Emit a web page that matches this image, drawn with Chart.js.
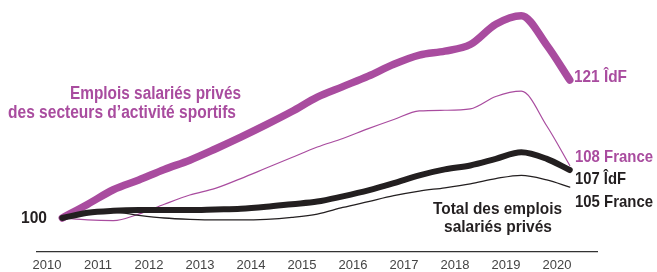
<!DOCTYPE html>
<html>
<head>
<meta charset="utf-8">
<script src="https://cdn.jsdelivr.net/npm/chart.js@4/dist/chart.umd.min.js"></script>
<style>
  html, body { margin: 0; padding: 0; background: #fff; }
  #wrap { width: 657px; height: 272px; }
</style>
</head>
<body>
<div id="wrap"><canvas id="c" width="657" height="272"></canvas></div>
<script>
// Year tick labels
const years = [2010, 2011, 2012, 2013, 2014, 2015, 2016, 2017, 2018, 2019, 2020];
// Observation times (fractional years)
const times = [2010.3, 2010.8, 2011.3, 2011.8, 2012.3, 2012.8, 2013.3, 2013.8, 2014.3, 2014.8,
               2015.3, 2015.8, 2016.3, 2016.8, 2017.3, 2017.8, 2018.3, 2018.8, 2019.3, 2019.8, 2020.25];
// Index base 100
const idfSport    = [100, 102.1, 104.3, 105.8, 107.4, 108.8, 110.5, 112.3, 114.2, 116.2,
                     118.4, 120.0, 121.6, 123.4, 124.8, 125.4, 126.4, 129.5, 130.8, 126.3, 121.0];
const franceSport = [100, 99.7, 99.6, 100.6, 102.1, 103.5, 104.5, 106.0, 107.6, 109.2,
                     110.8, 112.1, 113.6, 115.0, 116.3, 116.4, 116.6, 118.5, 119.3, 114.0, 108.0];
const idfTotal    = [100, 100.8, 101.1, 101.2, 101.2, 101.2, 101.3, 101.4, 101.7, 102.1,
                     102.5, 103.3, 104.2, 105.3, 106.5, 107.4, 108.0, 109.0, 110.0, 109.0, 107.3];
const franceTotal = [100, 100.7, 100.9, 100.4, 100.0, 99.8, 99.7, 99.7, 99.8, 100.1,
                     100.6, 101.6, 102.5, 103.4, 104.1, 104.6, 105.2, 106.0, 106.5, 105.8, 104.7];

const PURPLE = '#a94c9f';
const BLACK = '#231f20';

const pts = arr => times.map((t, i) => ({ x: t, y: arr[i] }));

const FONT = '"Liberation Sans Narrow", "Liberation Sans", Arial, sans-serif';

function fitText(ctx, text, x0, x1, baseline, size, color, bold) {
  ctx.save();
  ctx.font = (bold ? 'bold ' : '') + size + 'px ' + FONT;
  const w = ctx.measureText(text).width;
  const sx = (x1 - x0) / w;
  ctx.translate(x0, baseline);
  ctx.scale(sx, 1);
  ctx.fillStyle = color;
  ctx.textBaseline = 'alphabetic';
  ctx.textAlign = 'left';
  ctx.fillText(text, 0, 0);
  ctx.restore();
}

const labelsPlugin = {
  id: 'labelsPlugin',
  afterDraw(chart) {
    const ctx = chart.ctx;
    fitText(ctx, 'Emplois salariés privés', 70, 241, 99, 18, PURPLE, true);
    fitText(ctx, 'des secteurs d’activité sportifs', 8, 236, 118, 18, PURPLE, true);
    fitText(ctx, '121 ÎdF', 574, 627, 82, 17, PURPLE, true);
    fitText(ctx, '108 France', 575, 653, 162, 17, PURPLE, true);
    fitText(ctx, '107 ÎdF', 575, 626, 184, 17, BLACK, true);
    fitText(ctx, '105 France', 575, 653, 207, 17, BLACK, true);
    fitText(ctx, 'Total des emplois', 433, 562, 214, 17, BLACK, true);
    fitText(ctx, 'salariés privés', 444, 552, 232, 17, BLACK, true);
    fitText(ctx, '100', 21, 47, 223, 17, BLACK, true);
  }
};

const common = { pointRadius: 0, pointHoverRadius: 0, cubicInterpolationMode: 'monotone',
                 borderCapStyle: 'round', borderJoinStyle: 'round', fill: false, clip: false };

new Chart(document.getElementById('c'), {
  type: 'line',
  data: {
    datasets: [
      Object.assign({ label: 'Total ÎdF', data: pts(idfTotal), borderColor: BLACK, borderWidth: 6 }, common),
      Object.assign({ label: 'Sport ÎdF', data: pts(idfSport), borderColor: PURPLE, borderWidth: 7.5 }, common),
      Object.assign({ label: 'Total France', data: pts(franceTotal), borderColor: BLACK, borderWidth: 1.3 }, common),
      Object.assign({ label: 'Sport France', data: pts(franceSport), borderColor: PURPLE, borderWidth: 1.2 }, common)
    ]
  },
  options: {
    responsive: false,
    animation: false,
    events: [],
    layout: { padding: { left: 37, right: 60, top: 5, bottom: 0 } },
    plugins: { legend: { display: false }, tooltip: { enabled: false } },
    scales: {
      x: {
        type: 'linear',
        min: 2009.804,
        max: 2020.784,
        grid: { display: false, drawTicks: false },
        border: { display: true, color: '#333333', width: 1.2 },
        afterBuildTicks: s => { s.ticks = years.map(v => ({ value: v })); },
        afterFit: s => { s.height = 20; },
        ticks: {
          autoSkip: false,
          maxRotation: 0,
          padding: 6,
          color: '#444444',
          font: { family: '"Liberation Sans", Arial, sans-serif', size: 13 },
          callback: v => String(v)
        }
      },
      y: {
        display: false,
        min: 94.825,
        max: 132.42
      }
    }
  },
  plugins: [labelsPlugin]
});
</script>
</body>
</html>
